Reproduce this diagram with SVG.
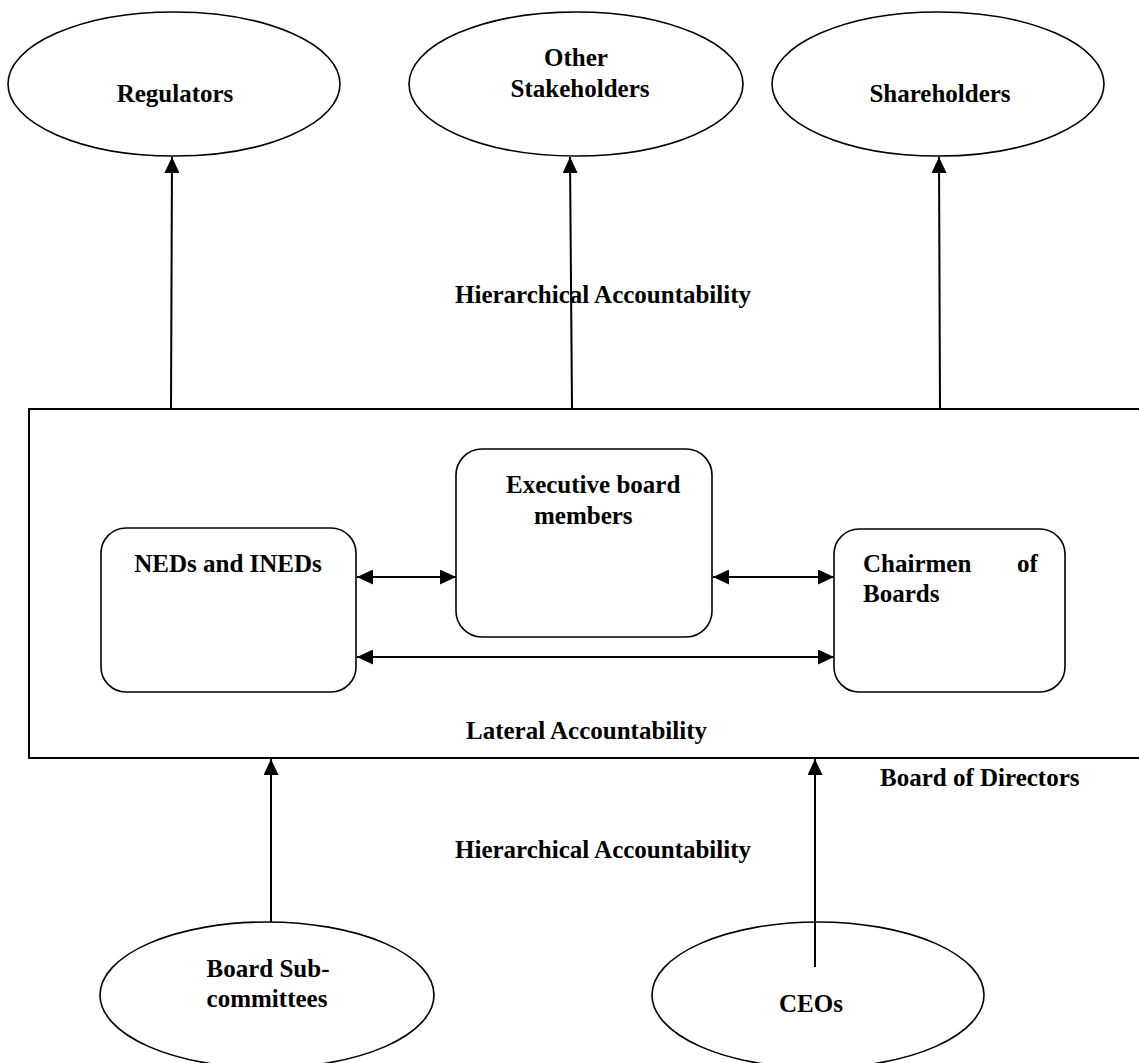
<svg xmlns="http://www.w3.org/2000/svg" width="1139" height="1063" viewBox="0 0 1139 1063">
<style>
.t{font-family:"Liberation Serif","Times New Roman",serif;font-weight:bold;font-size:25px;fill:#000}
.m{text-anchor:middle}
.shape{fill:#fff;stroke:#000;stroke-width:1.6}
.box{fill:none;stroke:#000;stroke-width:2}
.c{stroke:#000;stroke-width:2;fill:none}
</style>
<defs>
<marker id="ah" markerUnits="userSpaceOnUse" markerWidth="16" markerHeight="15" refX="16" refY="7.5" orient="auto-start-reverse" viewBox="0 0 16 15">
<path d="M0,0 L16,7.5 L0,15 z" fill="#000"/>
</marker>
</defs>
<rect width="1139" height="1063" fill="#fff"/>

<g id="board-of-directors">
<rect class="box" x="29" y="409" width="1130" height="349"/>
<text class="t" x="880" y="786">Board of Directors</text>
</g>

<g id="regulators">
<ellipse class="shape" cx="174" cy="84" rx="166" ry="72"/>
<text class="t m" x="175" y="102">Regulators</text>
</g>
<g id="other-stakeholders">
<ellipse class="shape" cx="576" cy="84" rx="167" ry="72"/>
<text class="t m" x="576" y="66">Other</text>
<text class="t m" x="580" y="97">Stakeholders</text>
</g>
<g id="shareholders">
<ellipse class="shape" cx="938" cy="84" rx="166" ry="72"/>
<text class="t m" x="940" y="102">Shareholders</text>
</g>

<g id="neds">
<rect class="shape" x="101" y="528" width="255" height="164" rx="25" ry="25"/>
<text class="t m" x="228" y="572">NEDs and INEDs</text>
</g>
<g id="executive">
<rect class="shape" x="456" y="449" width="256" height="188" rx="26" ry="26"/>
<text class="t" x="506" y="493">Executive board</text>
<text class="t" x="534" y="524">members</text>
</g>
<g id="chairmen">
<rect class="shape" x="834" y="529" width="231" height="163" rx="25" ry="25"/>
<text class="t" y="572"><tspan x="863">Chairmen</tspan><tspan x="1017">of</tspan></text>
<text class="t" x="863" y="602">Boards</text>
</g>

<g id="board-subcommittees">
<ellipse class="shape" cx="267" cy="995" rx="167" ry="73"/>
<text class="t m" x="268" y="977">Board Sub-</text>
<text class="t m" x="267" y="1007">committees</text>
</g>
<g id="ceos">
<ellipse class="shape" cx="818" cy="995" rx="166" ry="73"/>
<text class="t m" x="811" y="1012">CEOs</text>
</g>

<g id="labels">
<text class="t" x="455" y="303">Hierarchical Accountability</text>
<text class="t" x="466" y="739">Lateral Accountability</text>
<text class="t" x="455" y="858">Hierarchical Accountability</text>
</g>

<g id="connectors">
<line class="c" x1="171" y1="408" x2="172" y2="157" marker-end="url(#ah)"/>
<line class="c" x1="572" y1="408" x2="570" y2="157" marker-end="url(#ah)"/>
<line class="c" x1="940" y1="408" x2="939" y2="157" marker-end="url(#ah)"/>
<line class="c" x1="357" y1="577" x2="456" y2="577" marker-start="url(#ah)" marker-end="url(#ah)"/>
<line class="c" x1="713" y1="577" x2="834" y2="577" marker-start="url(#ah)" marker-end="url(#ah)"/>
<line class="c" x1="357" y1="657" x2="834" y2="657" marker-start="url(#ah)" marker-end="url(#ah)"/>
<line class="c" x1="271" y1="922" x2="271" y2="759" marker-end="url(#ah)"/>
<line class="c" x1="815" y1="967" x2="815" y2="759" marker-end="url(#ah)"/>
</g>
</svg>
